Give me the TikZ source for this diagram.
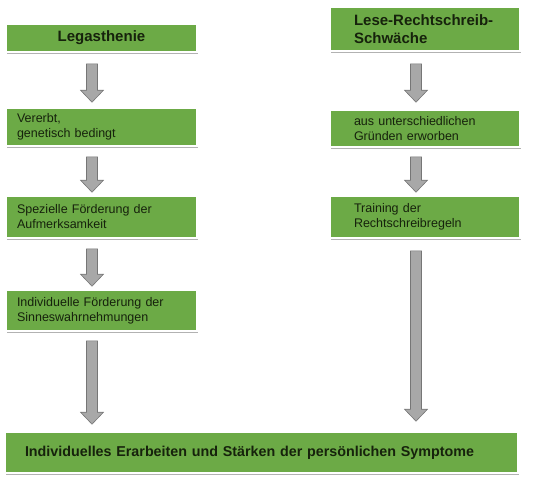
\documentclass[tikz,border=0pt]{standalone}
\usepackage{fontspec}
\setmainfont{Liberation Sans}
\usetikzlibrary{calc,shadows}

\definecolor{boxgreen}{RGB}{108,170,70}
\definecolor{boxtext}{RGB}{22,34,12}
\definecolor{arrowgray}{RGB}{168,168,168}
\definecolor{arrowedge}{RGB}{118,118,118}

\tikzset{
  box/.style={rectangle, fill=boxgreen, draw=white, line width=1.6pt, text=boxtext,
    align=left, drop shadow={shadow xshift=1pt, shadow yshift=-2.2pt, fill=black!30, opacity=1}},
  leftbox/.style={box, minimum width=191pt, text width=169pt, inner xsep=11pt,
    font=\fontsize{12.5}{15}\selectfont},
  rightbox/.style={box, minimum width=190pt, text width=142pt, inner xsep=24pt,
    font=\fontsize{12.5}{15}\selectfont},
  titlefont/.style={font=\fontsize{15}{17.5}\selectfont\bfseries},
  blockarrow/.style={fill=arrowgray, draw=arrowedge, line width=0.6pt, line join=miter,
    to path={let \p1=(\tikztostart), \p2=(\tikztotarget) in
      (\x1-5.5pt,\y1) -- (\x1+5.5pt,\y1) -- (\x1+5.5pt,\y2+12pt) -- (\x1+11.5pt,\y2+12pt)
      -- (\x1,\y2) -- (\x1-11.5pt,\y2+12pt) -- (\x1-5.5pt,\y2+12pt) -- cycle}},
}

\begin{document}
\begin{tikzpicture}[x=1pt,y=-1pt]
\useasboundingbox (0,0) rectangle (540,480);

% left column
\node[leftbox, titlefont, align=center, minimum height=28pt] (legas) at (101.5,38) {Legasthenie};
\node[leftbox, minimum height=38pt] (vererbt) at (101.5,127) {Vererbt,\\genetisch bedingt};
\node[leftbox, minimum height=42pt] (aufmerk) at (101.5,217) {Spezielle Förderung der\\Aufmerksamkeit};
\node[leftbox, minimum height=41pt] (sinne) at (101.5,310.5) {Individuelle Förderung der\\Sinneswahrnehmungen};

% right column
\node[rightbox, titlefont, minimum height=44pt] (lrs) at (425,29) {Lese-Rechtschreib-\\Schwäche};
\node[rightbox, minimum height=37pt] (gruende) at (425,128.5) {aus unterschiedlichen\\Gründen erworben};
\node[rightbox, minimum height=42pt] (training) at (425,217) {Training der\\Rechtschreibregeln};

% common box
\node[box, font=\fontsize{14.3}{17}\selectfont\bfseries, minimum width=513pt, text width=473pt, inner xsep=20pt, minimum height=41pt] (symptome) at (261.5,452.5)
  {Individuelles Erarbeiten und Stärken der persönlichen Symptome};

% arrows
\draw[blockarrow] ([xshift=-9.5pt,yshift=-11pt]legas.south) to ([xshift=-9.5pt,yshift=5pt]vererbt.north);
\draw[blockarrow] ([xshift=-9.5pt,yshift=-10pt]vererbt.south) to ([xshift=-9.5pt,yshift=3pt]aufmerk.north);
\draw[blockarrow] ([xshift=-9.5pt,yshift=-10pt]aufmerk.south) to ([xshift=-9.5pt,yshift=3pt]sinne.north);
\draw[blockarrow] ([xshift=-9.5pt,yshift=-9pt]sinne.south) to ([xshift=-9.5pt,yshift=7pt]symptome.north -| sinne.south);
\draw[blockarrow] ([xshift=-9pt,yshift=-12pt]lrs.south) to ([xshift=-9pt,yshift=7pt]gruende.north);
\draw[blockarrow] ([xshift=-9pt,yshift=-9pt]gruende.south) to ([xshift=-9pt,yshift=3pt]training.north);
\draw[blockarrow] ([xshift=-9pt,yshift=-12pt]training.south) to ([xshift=-9pt,yshift=10pt]symptome.north -| training.south);
\end{tikzpicture}
\end{document}
